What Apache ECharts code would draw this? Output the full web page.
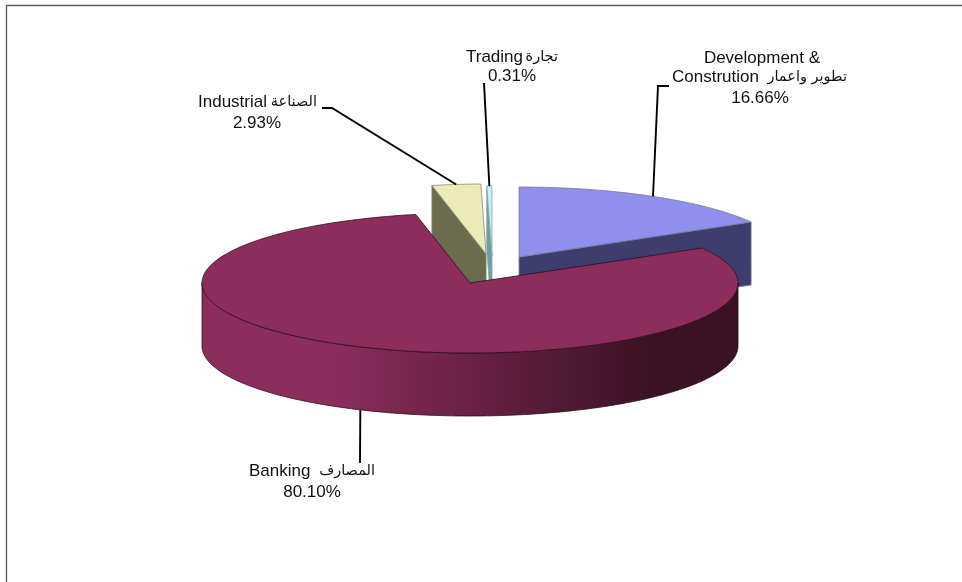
<!DOCTYPE html>
<html>
<head>
<meta charset="utf-8">
<style>html,body{margin:0;padding:0;background:#fff}#c{width:962px;height:582px}</style>
<script src="https://cdn.jsdelivr.net/npm/echarts@6/dist/echarts.min.js"></script>
</head>
<body>
<div id="c"></div>
<script>
// Data (clockwise from 12 o'clock)
const categories = ['Development & Constrution', 'Banking', 'Industrial', 'Trading'];
const arabicNames = ['تطوير واعمار', 'المصارف', 'الصناعة', 'تجارة'];
const shares = [16.66, 80.10, 2.93, 0.31];

// Styling and layout
const paintOrder = [0, 3, 2, 1];
const topColors = ['#8f8fee', '#8c2d5c', '#ecebb8', '#c8eff3'];
const wallColors = ['#3e3e6e', '#8c2d5c', '#6b6b4d', '#6f9ea3'];
const edgeColors = ['#77778f', '#2a0f1e', '#8a8a78', '#7fa5a8'];
const explode = [[0.183, 0.371], [0, 0], [0.06, 0.414], [0.082, 0.386]];
const DEPTH = 0.9; // wall height in axis units
const leaderStops = [
  [[658, 86], [669, 86]],
  [[360, 463]],
  [[332, 108], [322, 108]],
  [[484, 83]]
];
const FONT = '"Liberation Sans", Arial, sans-serif';
const AR_FONT = '"DejaVu Sans", sans-serif';
const TXT = '#111111';
// [text, x, y, align, font]
function labelRows(i) {
  const pct = shares[i].toFixed(2) + '%';
  return [
    [
      ['Development &', 762, 58, 'center', 0],
      ['Constrution', 672, 77, 'left', 0],
      [arabicNames[0], 847, 77, 'right', 1],
      [pct, 760, 98, 'center', 0]
    ],
    [
      ['Banking', 249, 471, 'left', 0],
      [arabicNames[1], 375, 471, 'right', 1],
      [pct, 312, 492, 'center', 0]
    ],
    [
      ['Industrial', 198, 102, 'left', 0],
      [arabicNames[2], 317, 102, 'right', 1],
      [pct, 257, 123, 'center', 0]
    ],
    [
      ['Trading', 466, 57, 'left', 0],
      [arabicNames[3], 558, 57, 'right', 1],
      [pct, 512, 76, 'center', 0]
    ]
  ][i];
}

const total = shares.reduce((a, b) => a + b, 0);
const starts = [];
shares.reduce((acc, v, i) => { starts[i] = acc; return acc + v; }, 0);
const rad = p => p / total * Math.PI * 2;

function renderItem(params, api) {
  const i = api.value(0);
  const a0 = rad(starts[i]), a1 = rad(starts[i] + shares[i]);
  const [ox, oy] = explode[i];
  const pt = (a, drop) => api.coord([ox + Math.sin(a), oy + Math.cos(a) - (drop || 0)]);
  const apex = drop => api.coord([ox, oy - (drop || 0)]);
  const arc = (s, e, drop) => {
    const n = Math.max(2, Math.ceil((e - s) / 0.01));
    const out = [];
    for (let k = 0; k <= n; k++) out.push(pt(s + (e - s) * k / n, drop));
    return out;
  };
  const children = [];
  const poly = (points, fill, stroke, z) => children.push({
    type: 'polygon', z2: z,
    shape: { points },
    style: { fill, stroke, lineWidth: 0.8 }
  });
  // cut faces turned to the viewer
  if (Math.sin(a0) < -1e-6) poly([pt(a0), apex(), apex(DEPTH), pt(a0, DEPTH)], wallColors[i], edgeColors[i], 1);
  if (Math.sin(a1) > 1e-6) poly([pt(a1), apex(), apex(DEPTH), pt(a1, DEPTH)], wallColors[i], edgeColors[i], 1);
  // outer wall, front half only
  const s = Math.max(a0, Math.PI / 2), e = Math.min(a1, Math.PI * 1.5);
  if (e > s) {
    const top = arc(s, e, 0), bottom = arc(s, e, DEPTH).reverse();
    const fill = new echarts.graphic.LinearGradient(0, 0, 1, 0, [
      { offset: 0, color: wallColors[i] },
      { offset: 0.245, color: wallColors[i] },
      { offset: 0.845, color: '#3a1224' },
      { offset: 1, color: '#3a1224' }
    ]);
    poly(top.concat(bottom), fill, edgeColors[i], 2);
  }
  // top face
  poly([apex()].concat(arc(a0, a1, 0)), topColors[i], edgeColors[i], 3);
  // leader line
  const mid = (a0 + a1) / 2;
  const isFront = Math.cos(mid) < 0;
  children.push({
    type: 'polyline', z2: 4,
    shape: { points: [pt(mid, isFront ? DEPTH : 0)].concat(leaderStops[i]) },
    style: { fill: null, stroke: '#000', lineWidth: 1.9 }
  });
  // labels
  labelRows(i).forEach(r => children.push({
    type: 'text', z2: 5,
    style: {
      text: r[0], x: r[1], y: r[2], align: r[3], verticalAlign: 'middle',
      fill: TXT,
      font: r[4] ? '14.5px ' + AR_FONT : '17px ' + FONT
    }
  }));
  return { type: 'group', children };
}

const chart = echarts.init(document.getElementById('c'), null, { renderer: 'canvas' });
chart.setOption({
  animation: false,
  backgroundColor: '#fff',
  grid: { left: 202, top: 213, width: 536, height: 140, containLabel: false },
  xAxis: { type: 'value', min: -1, max: 1, show: false },
  yAxis: { type: 'value', min: -1, max: 1, show: false },
  graphic: [
    { type: 'polyline', silent: true, z: -1,
      shape: { points: [[6.5, 582], [6.5, 5.5], [962, 5.5]] },
      style: { fill: null, stroke: '#5a5a5a', lineWidth: 1.3 } }
  ],
  series: [{
    type: 'custom',
    coordinateSystem: 'cartesian2d',
    clip: false,
    silent: true,
    renderItem,
    encode: { x: 1, y: 1 },
    data: paintOrder.map(i => [i, 0])
  }]
});
</script>
</body>
</html>
